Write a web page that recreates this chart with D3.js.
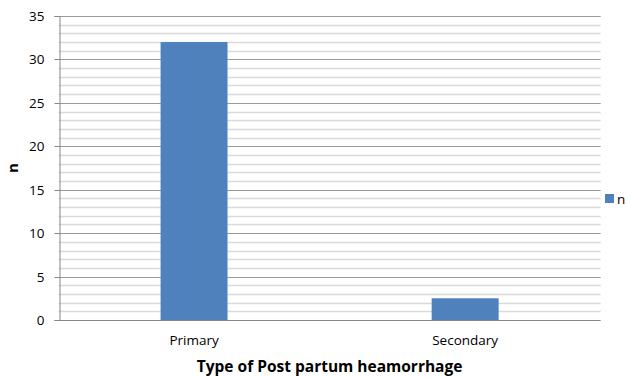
<!DOCTYPE html>
<html>
<head>
<meta charset="utf-8">
<script src="https://cdn.jsdelivr.net/npm/d3@7"></script>
<style>
  html, body { margin: 0; padding: 0; background: #fff; }
  svg text { font-family: "Open Sans", "Liberation Sans", sans-serif; fill: #000; }
</style>
</head>
<body>
<svg id="chart" width="627" height="377"></svg>
<script>
// Post partum haemorrhage counts by type
const categories = ["Primary", "Secondary"];
const values = [32, 2.5];
const seriesName = "n";
const yTicks = [0, 5, 10, 15, 20, 25, 30, 35];
const yMinorTicks = d3.range(0, 36, 1);

const svg = d3.select("#chart");
const margin = { left: 58.5, right: 26.3, top: 16, bottom: 57 };
const W = 627, H = 377;
const x0 = margin.left, x1 = W - margin.right;
const y0 = H - margin.bottom, y1 = margin.top;

const x = d3.scaleBand().domain(categories).range([x0, x1]).paddingInner(0).paddingOuter(0);
const y = d3.scaleLinear().domain([0, 35]).range([y0, y1]);

// minor gridlines
svg.append("g").selectAll("line")
  .data(yMinorTicks.filter(v => v % 5 !== 0))
  .join("line")
  .attr("x1", x0).attr("x2", x1)
  .attr("y1", d => Math.round(y(d)) + 0.5).attr("y2", d => Math.round(y(d)) + 0.5)
  .attr("stroke", "#d9d9d9").attr("stroke-width", 1.6);

// major gridlines
svg.append("g").selectAll("line")
  .data(yTicks.filter(v => v > 0))
  .join("line")
  .attr("x1", x0).attr("x2", x1)
  .attr("y1", d => Math.round(y(d)) + 0.5).attr("y2", d => Math.round(y(d)) + 0.5)
  .attr("stroke", "#9a9a9a").attr("stroke-width", 1);

// bars
const barW = x.bandwidth() * 0.247;
svg.append("g").selectAll("rect")
  .data(categories.map((c, i) => ({ c, v: values[i] })))
  .join("rect")
  .attr("x", d => x(d.c) + x.bandwidth() / 2 - barW / 2)
  .attr("width", barW)
  .attr("y", d => y(d.v))
  .attr("height", d => y(0) - y(d.v))
  .attr("fill", "#4f81bd");

// y axis
const yAxis = d3.axisLeft(y).tickValues(yTicks).tickSize(5).tickPadding(10);
const gy = svg.append("g").attr("transform", `translate(${Math.round(x0) + 0.5},0)`).call(yAxis);
gy.select(".domain").attr("stroke", "#868686");
gy.selectAll(".tick line").attr("stroke", "#868686");
gy.selectAll(".tick text").style("font-size", "13.5px").attr("fill", "#000");
gy.selectAll(".tick").attr("transform", d => `translate(0,${Math.round(y(d)) + 0.5})`);

// x axis baseline
svg.append("line")
  .attr("x1", x0).attr("x2", x1)
  .attr("y1", Math.round(y0) + 0.5).attr("y2", Math.round(y0) + 0.5)
  .attr("stroke", "#868686");

// category labels
svg.append("g").selectAll("text")
  .data(categories)
  .join("text")
  .attr("x", d => x(d) + x.bandwidth() / 2)
  .attr("y", y0 + 25)
  .attr("text-anchor", "middle")
  .style("font-size", "13.5px")
  .text(d => d);

// axis titles
svg.append("text")
  .attr("x", (x0 + x1) / 2).attr("y", 372)
  .attr("text-anchor", "middle")
  .style("font-size", "15.5px").style("font-weight", "bold")
  .text("Type of Post partum heamorrhage");

svg.append("text")
  .attr("transform", `translate(18,${(y0 + y1) / 2}) rotate(-90)`)
  .attr("text-anchor", "middle")
  .style("font-size", "15px").style("font-weight", "bold")
  .text(seriesName);

// legend
const lg = svg.append("g").attr("transform", "translate(605,194)");
lg.append("rect").attr("width", 9).attr("height", 9).attr("fill", "#4f81bd");
lg.append("text").attr("x", 12).attr("y", 9.5).style("font-size", "13.5px").text(seriesName);
</script>
</body>
</html>
